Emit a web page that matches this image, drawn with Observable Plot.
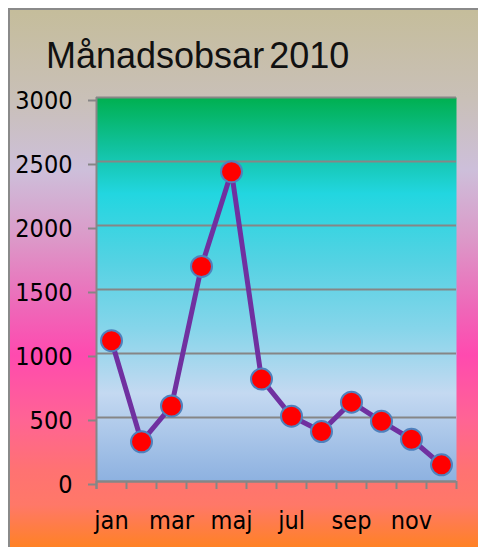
<!DOCTYPE html>
<html>
<head>
<meta charset="utf-8">
<script src="https://cdn.jsdelivr.net/npm/d3@7"></script>
<script src="https://cdn.jsdelivr.net/npm/@observablehq/plot@0.6"></script>
<style>
  html, body { margin: 0; padding: 0; background: #fff; }
  #chart { position: relative; width: 478px; height: 547px; overflow: hidden; }
  #bg {
    position: absolute; left: 8px; top: 8px; width: 470px; height: 539px;
    box-sizing: border-box;
    border-left: 2px solid #8a8a8a; border-top: 2px solid #8a8a8a;
    background: linear-gradient(to bottom,
      #c5bd9b 0px, #c9c0b8 90px, #cdbfda 160px, #dc98c8 230px,
      #ef66b8 300px, #ff4aaf 345px, #ff6494 410px, #ff7272 460px,
      #ff7868 495px, #ff8222 539px);
  }
  #title {
    position: absolute; left: 46px; top: 38px;
    font-family: "Liberation Sans", Arial, sans-serif; font-size: 36px;
    line-height: 36px; letter-spacing: 0px; word-spacing: -5px; color: #111;
    white-space: nowrap;
  }
  #chart svg { position: absolute; left: 0; top: 0; }
</style>
</head>
<body>
<div id="chart">
  <div id="bg"></div>
  <div id="title">Månadsobsar 2010</div>
</div>
<script>
const months = ["jan","feb","mar","apr","maj","jun","jul","aug","sep","okt","nov","dec"];
const values = [1100, 310, 590, 1680, 2420, 800, 510, 390, 620, 470, 330, 130];
const yTicks = [0, 500, 1000, 1500, 2000, 2500, 3000];
const labelIndex = [0, 2, 4, 6, 8, 10];

const gray = "#868686";
const data = months.map((m, i) => ({month: m, pos: i + 0.5, value: values[i]}));

const svg = Plot.plot({
  width: 478,
  height: 547,
  marginLeft: 96,
  marginRight: 22,
  marginTop: 97,
  marginBottom: 66,
  style: {
    background: "transparent",
    fontFamily: "'Liberation Sans Narrow', 'DejaVu Sans Condensed', sans-serif",
    fontSize: "25px",
    color: "#000",
    overflow: "visible"
  },
  x: {domain: [0, months.length], label: null},
  y: {domain: [0, 3000], label: null},
  marks: [
    Plot.frame({fill: "url(#plotBg)", stroke: null}),
    Plot.gridY(yTicks, {stroke: gray, strokeOpacity: 1, strokeWidth: 2}),
    Plot.axisY(yTicks, {tickSize: 8, tickPadding: 16, stroke: gray, strokeWidth: 2, dy: 3, label: null, tickFormat: d => String(d)}),
    Plot.ruleX([0], {stroke: gray, strokeWidth: 2, insetBottom: -8}),
    Plot.ruleY([0], {stroke: gray, strokeWidth: 2}),
    Plot.axisX(d3.range(0, months.length + 1), {tickSize: 8, stroke: gray, strokeWidth: 2, label: null, tickFormat: () => ""}),
    Plot.axisX(labelIndex.map(i => i + 0.5), {tickSize: 0, tickPadding: 30, label: null, tickFormat: d => months[Math.floor(d)]}),
    Plot.line(data, {x: "pos", y: "value", stroke: "#7030a0", strokeWidth: 5, strokeLinejoin: "round"}),
    Plot.dot(data, {x: "pos", y: "value", r: 10.5, fill: "#ff0000", stroke: "#4f81bd", strokeWidth: 2, fillOpacity: 1})
  ]
});

d3.select(svg).insert("defs", ":first-child").html(`
  <linearGradient id="plotBg" x1="0" y1="0" x2="0" y2="1">
    <stop offset="0" stop-color="#00b050"/>
    <stop offset="0.14" stop-color="#12c3a4"/>
    <stop offset="0.25" stop-color="#22d6e0"/>
    <stop offset="0.43" stop-color="#55d2e3"/>
    <stop offset="0.60" stop-color="#85d5ea"/>
    <stop offset="0.77" stop-color="#c4d9f1"/>
    <stop offset="1" stop-color="#8db1e0"/>
  </linearGradient>`);

document.getElementById("chart").appendChild(svg);
</script>
</body>
</html>
